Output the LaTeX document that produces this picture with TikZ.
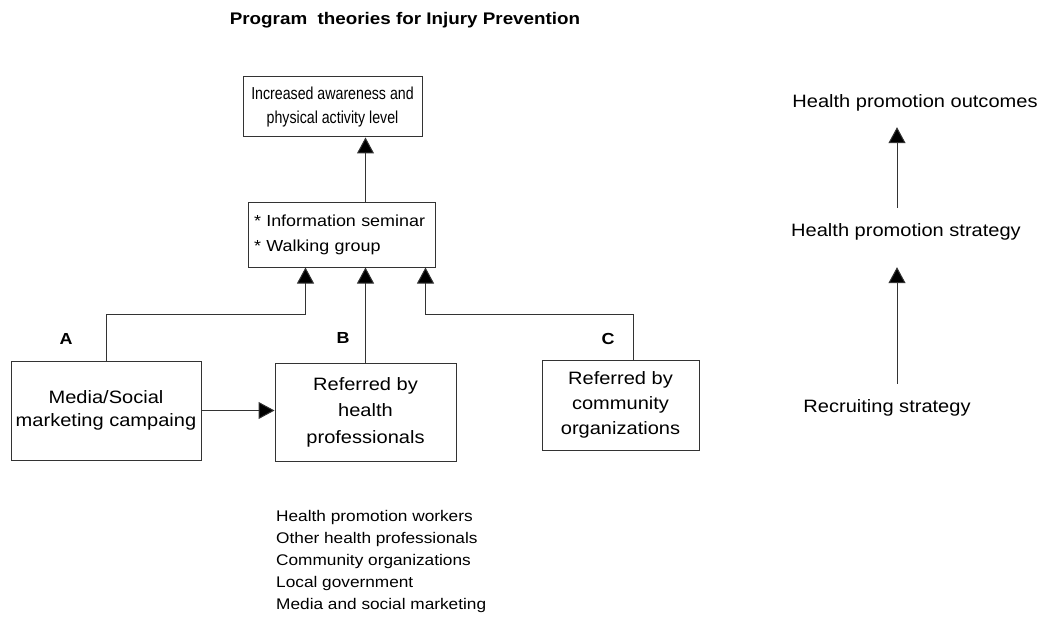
\documentclass[tikz,border=0pt]{standalone}
\usepackage{fontspec}
\setmainfont{Liberation Sans}[FakeStretch=1.12]
\newfontfamily\narrowfont{Liberation Sans}[FakeStretch=0.82]
\usetikzlibrary{arrows.meta}

\tikzset{
  box/.style={draw=black!80, line width=1pt, inner sep=0pt, align=center,
    font=\fontsize{17.9}{25}\selectfont},
  arr/.style={draw=black!80, line width=1pt,
    -{Triangle[length=16pt,width=17pt,fill=black]}},
  lbl/.style={font=\fontsize{16}{16}\bfseries\selectfont},
  stage/.style={font=\fontsize{17.9}{22}\selectfont, minimum height=48pt, inner sep=0pt}
}

\begin{document}
\begin{tikzpicture}[x=1pt, y=-1pt]
    \useasboundingbox (0,0) rectangle (1042,623);

    % Title
    \node[font=\fontsize{16.8}{20}\bfseries\selectfont] (title) at (405,20)
        {Program\ \ theories for Injury Prevention};

    % Outcome and programme boxes
    \node[box, minimum width=179pt, minimum height=60pt,
        font=\narrowfont\fontsize{17.3}{24}\selectfont] (aware) at (332.5,107)
        {Increased awareness and\\physical activity level};
    \node[box, align=left, text width=175pt, inner xsep=6pt, minimum height=65pt,
        font=\fontsize{16}{25}\selectfont] (seminar) at (341.5,234.5)
        {{*} Information seminar\\{*} Walking group};

    % Recruiting boxes
    \node[box, minimum width=190pt, minimum height=99pt,
        font=\fontsize{17.9}{23}\selectfont] (media) at (106,410.5)
        {Media/Social\\marketing campaing};
    \node[box, minimum width=181pt, minimum height=98pt,
        font=\fontsize{17.9}{26.5}\selectfont] (health) at (365.5,412)
        {Referred by\\health\\professionals};
    \node[box, minimum width=157pt, minimum height=90pt] (comm) at (620.5,405)
        {Referred by\\community\\organizations};

    % Route labels
    \node[lbl] (labA) at (66,339) {A};
    \node[lbl] (labB) at (343,338) {B};
    \node[lbl] (labC) at (608,339) {C};

    % Join points on the seminar box
    \coordinate (jn) at (0,314); % height of the elbows
    \coordinate (inA) at ([xshift=58pt]seminar.south west);
    \coordinate (inC) at ([xshift=-10pt]seminar.south east);
    \coordinate (outC) at ([xshift=12.5pt]comm.north);

    % Connectors
    \draw[arr] (seminar.north -| health.north) -- (aware.south -| health.north);
    \draw[arr] (health.north) -- (health.north |- seminar.south);
    \draw[arr] (media.north) -- (media.north |- jn) -| (inA);
    \draw[arr] (outC) -- (outC |- jn) -| (inC);
    \draw[arr] (media.east) -- (media.east -| health.west);

    % Generic model on the right
    \node[stage] (outcome) at (915,103) {Health promotion outcomes};
    \node[stage] (strategy) at (906,232) {Health promotion strategy};
    \node[stage] (recruit) at (887,408) {Recruiting strategy};
    \coordinate (ax) at (897,0);
    \draw[arr] (strategy.north -| ax) -- (outcome.south -| ax);
    \draw[arr, shorten >=11pt] (recruit.north -| ax) -- (strategy.south -| ax);

    % Partners
    \node[anchor=west, align=left, inner sep=0pt,
        font=\fontsize{15.4}{22}\selectfont] (partners) at (276,561.5)
        {Health promotion workers\\Other health professionals\\Community organizations\\Local government\\Media and social marketing};

\end{tikzpicture}
\end{document}
